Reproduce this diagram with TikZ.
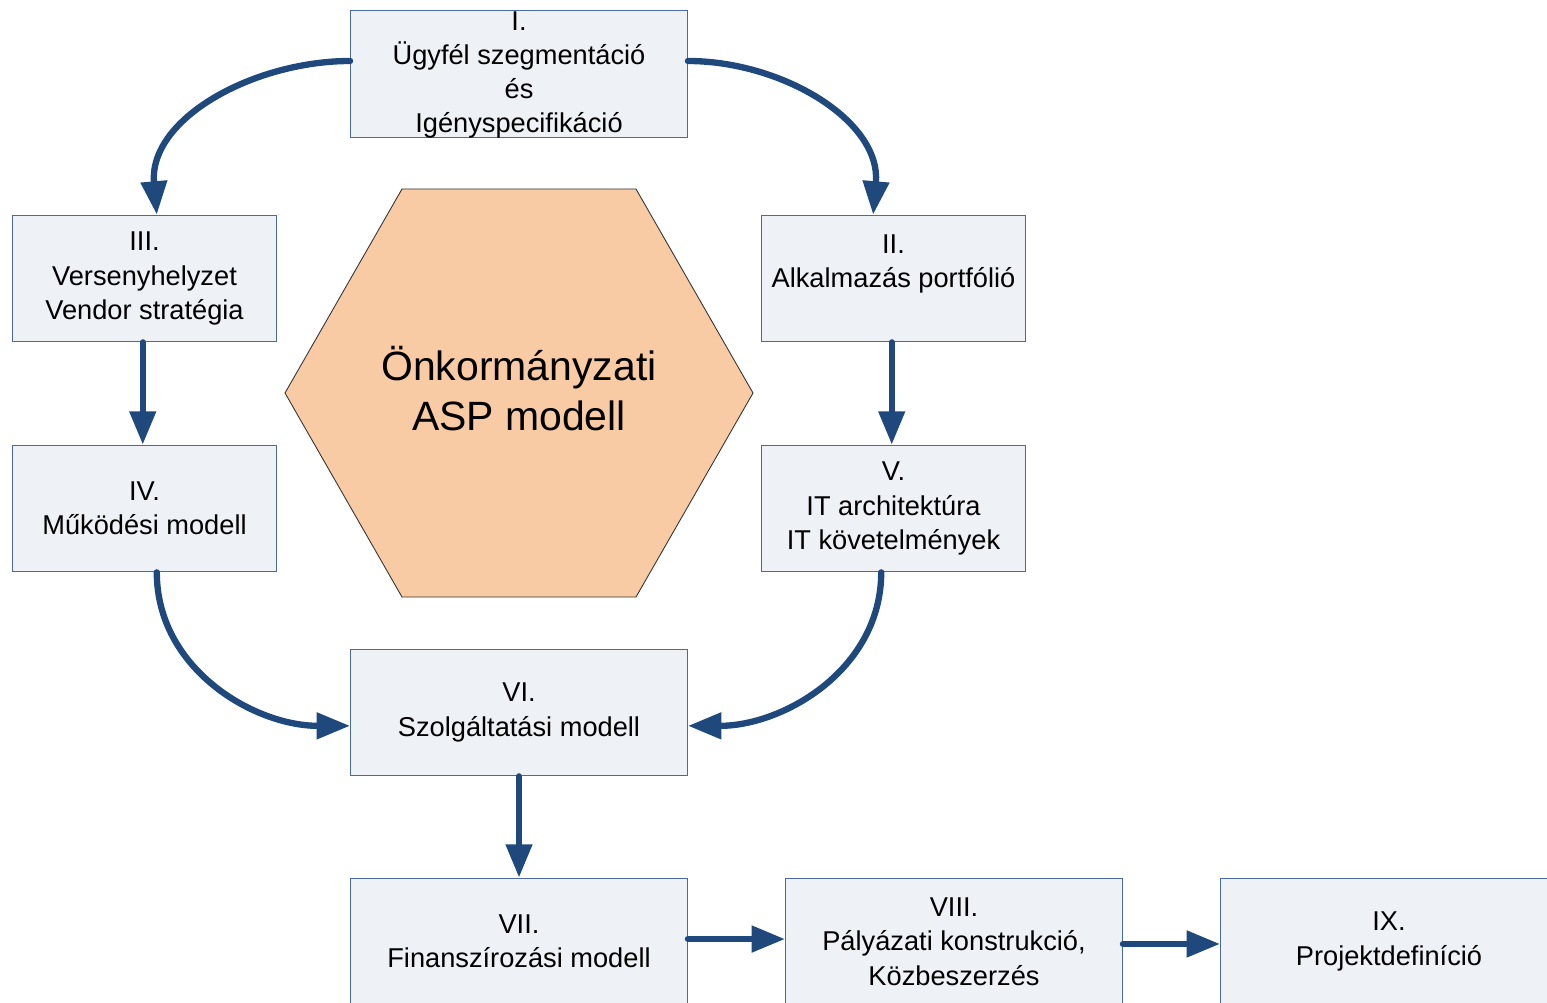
\documentclass[tikz,border=0pt]{standalone}
\usepackage{fontspec}
\setmainfont{Liberation Sans}
\usetikzlibrary{arrows.meta,shapes.geometric}
\definecolor{boxfill}{HTML}{EEF1F6}
\definecolor{boxline}{HTML}{4A6A9E}
\definecolor{arrblue}{HTML}{1F497D}
\definecolor{hexfill}{HTML}{F9CBA5}
\tikzset{
  blk/.style={draw=boxline,fill=boxfill,line width=0.7pt,minimum height=72pt,align=center,
    font=\fontsize{15.5}{19.5}\selectfont,inner sep=0pt},
  wide/.style={blk,minimum width=191.6pt},
  narrow/.style={blk,minimum width=150.2pt},
  flow/.style={draw=arrblue,line width=3.6pt,line cap=round,-{Triangle[length=19pt,width=14.5pt]}}
}
\begin{document}
\begin{tikzpicture}[x=0.02cm,y=-0.02cm]
    \useasboundingbox (0,0) rectangle (1547,1003);
    % central hexagon
    \draw[draw=black!80,fill=hexfill,line width=0.5pt](285,393)--(402,189)--(636,189)--(753,393)--(636,597)--(402,597)--cycle;
    \node[align=center,font=\fontsize{23.3}{28.4}\selectfont] (asp) at (519,389) {Önkormányzati\\ASP modell};
    % boxes
    \node[wide] (I) at (519,74) {};
    \node[align=center,font=\fontsize{15.5}{19.5}\selectfont] (I-txt) at (519,75) {I.\\Ügyfél szegmentáció\\és\\Igényspecifikáció};
    \node[narrow] (II) at (893.5,278.5) {II.\\Alkalmazás portfólió\\~};
    \node[narrow] (III) at (144.5,278.5) {III.\\Versenyhelyzet\\Vendor stratégia};
    \node[narrow] (IV) at (144.5,508.5) {IV.\\Működési modell};
    \node[narrow] (V) at (893.5,508.5) {V.\\IT architektúra\\IT követelmények};
    \node[wide] (VI) at (519,712.5) {VI.\\Szolgáltatási modell};
    \node[wide] (VII) at (519,941.5) {VII.\\Finanszírozási modell};
    \node[wide] (VIII) at (954,941.5) {VIII.\\Pályázati konstrukció,\\Közbeszerzés};
    \node[wide] (IX) at (1389,941.5) {IX.\\Projektdefiníció};
    % connectors
    \draw[flow]([yshift=7.4pt]I.west)to[out=180,in=95]([xshift=7pt]III.north);
    \draw[flow]([yshift=7.4pt]I.east)to[out=0,in=85]([xshift=-11.6pt]II.north);
    \draw[flow]([xshift=-1]III.south)--([xshift=-1]IV.north);
    \draw[flow]([xshift=-1]II.south)--([xshift=-1]IV.north -| II.south);
    \draw[flow]([xshift=7pt]IV.south)to[out=-90,in=180]([yshift=-7.6pt]VI.west);
    \draw[flow]([xshift=-7pt]V.south)to[out=-90,in=0]([yshift=-7.6pt]VI.east);
    \draw[flow](VI.south)--(VII.north);
    \draw[flow]([yshift=1.4pt]VII.east)--([yshift=1.4pt]VIII.west);
    \draw[flow]([yshift=-1.4pt]VIII.east)--([yshift=-1.4pt]IX.west);
\end{tikzpicture}
\end{document}
